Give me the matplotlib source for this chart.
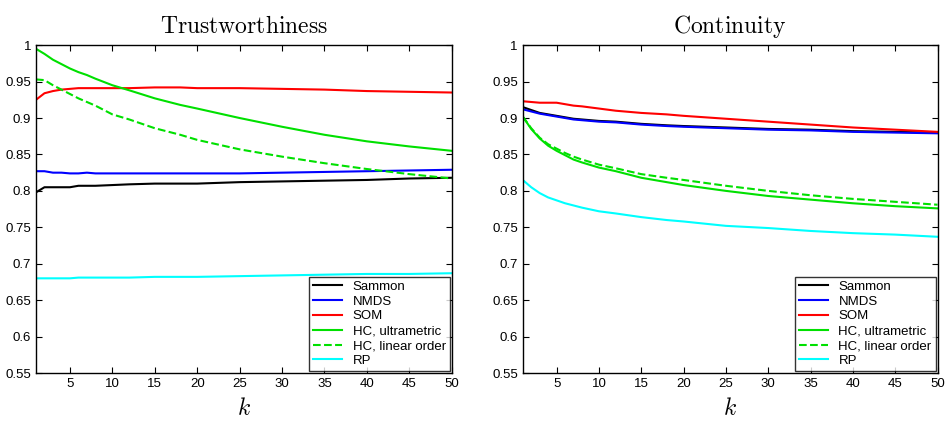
import matplotlib
matplotlib.use("Agg")
import matplotlib.pyplot as plt

plt.rcParams["font.family"] = ["Liberation Sans", "DejaVu Sans"]
plt.rcParams["mathtext.fontset"] = "cm"

# k values where curves are sampled
k_pts = [1, 2, 3, 4, 5, 6, 7, 8, 10, 12, 15, 18, 20, 25, 30, 35, 40, 45, 50]

# Trustworthiness
tw_sammon = [0.798, 0.805, 0.805, 0.805, 0.805, 0.807, 0.807, 0.807, 0.808, 0.809, 0.810, 0.810, 0.810, 0.812, 0.813, 0.814, 0.815, 0.817, 0.818]
tw_nmds = [0.827, 0.827, 0.825, 0.825, 0.824, 0.824, 0.825, 0.824, 0.824, 0.824, 0.824, 0.824, 0.824, 0.824, 0.825, 0.826, 0.827, 0.828, 0.829]
tw_som = [0.925, 0.934, 0.937, 0.939, 0.940, 0.941, 0.941, 0.941, 0.941, 0.941, 0.942, 0.942, 0.941, 0.941, 0.940, 0.939, 0.937, 0.936, 0.935]
tw_hc_ultra = [0.995, 0.988, 0.980, 0.974, 0.968, 0.963, 0.959, 0.954, 0.945, 0.938, 0.927, 0.918, 0.913, 0.900, 0.888, 0.877, 0.868, 0.861, 0.855]
tw_hc_linear = [0.953, 0.952, 0.945, 0.939, 0.933, 0.927, 0.922, 0.917, 0.905, 0.898, 0.886, 0.877, 0.870, 0.857, 0.847, 0.838, 0.830, 0.823, 0.817]
tw_rp = [0.680, 0.680, 0.680, 0.680, 0.680, 0.681, 0.681, 0.681, 0.681, 0.681, 0.682, 0.682, 0.682, 0.683, 0.684, 0.685, 0.686, 0.686, 0.687]

# Continuity
co_sammon = [0.915, 0.911, 0.907, 0.905, 0.903, 0.901, 0.899, 0.898, 0.896, 0.895, 0.892, 0.890, 0.889, 0.887, 0.885, 0.884, 0.882, 0.881, 0.880]
co_nmds = [0.912, 0.909, 0.906, 0.904, 0.902, 0.900, 0.898, 0.897, 0.895, 0.894, 0.891, 0.889, 0.888, 0.886, 0.884, 0.883, 0.881, 0.880, 0.879]
co_som = [0.923, 0.922, 0.921, 0.921, 0.921, 0.919, 0.917, 0.916, 0.913, 0.910, 0.907, 0.905, 0.903, 0.899, 0.895, 0.891, 0.887, 0.884, 0.881]
co_hc_ultra = [0.902, 0.885, 0.872, 0.862, 0.855, 0.849, 0.843, 0.839, 0.832, 0.827, 0.818, 0.812, 0.808, 0.800, 0.793, 0.788, 0.783, 0.779, 0.776]
co_hc_linear = [0.902, 0.886, 0.873, 0.864, 0.858, 0.852, 0.847, 0.843, 0.836, 0.831, 0.823, 0.818, 0.815, 0.807, 0.800, 0.794, 0.789, 0.785, 0.781]
co_rp = [0.815, 0.805, 0.797, 0.791, 0.787, 0.783, 0.780, 0.777, 0.772, 0.769, 0.764, 0.760, 0.758, 0.752, 0.749, 0.745, 0.742, 0.740, 0.737]

labels = ["Sammon", "NMDS", "SOM", "HC, ultrametric", "HC, linear order", "RP"]
colors = ["black", "#0000ff", "#ff0000", "#00e000", "#00e000", "#00ffff"]
styles = ["-", "-", "-", "-", "--", "-"]

panels = [
    ("Trustworthiness", [tw_sammon, tw_nmds, tw_som, tw_hc_ultra, tw_hc_linear, tw_rp]),
    ("Continuity", [co_sammon, co_nmds, co_som, co_hc_ultra, co_hc_linear, co_rp]),
]

fig = plt.figure(figsize=(9.47, 4.22), dpi=100)
axes = [fig.add_axes([0.038, 0.116, 0.439, 0.777]),
        fig.add_axes([0.552, 0.116, 0.438, 0.777])]

for ax, (title, series) in zip(axes, panels):
    for vals, lab, c, ls in zip(series, labels, colors, styles):
        ax.plot(k_pts, vals, color=c, linestyle=ls, linewidth=1.5, label=lab)
    ax.set_xlim(1, 50)
    ax.set_ylim(0.55, 1.0)
    ax.set_xticks(range(5, 51, 5))
    ax.set_yticks([0.55, 0.6, 0.65, 0.7, 0.75, 0.8, 0.85, 0.9, 0.95, 1.0])
    ax.set_yticklabels(["0.55", "0.6", "0.65", "0.7", "0.75", "0.8", "0.85", "0.9", "0.95", "1"])
    ax.tick_params(direction="in", top=True, right=True, labelsize=9.5, length=4)
    for sp in ax.spines.values():
        sp.set_linewidth(1.0)
    ax.set_title(r"$\mathrm{" + title + "}$", fontsize=17, pad=9)
    ax.set_xlabel(r"$k$", fontsize=17, labelpad=6)
    leg = ax.legend(loc="lower right", fontsize=9.5, frameon=True, fancybox=False,
                    borderaxespad=0.15, handlelength=2.2, labelspacing=0.2,
                    borderpad=0.3, handletextpad=0.8)
    leg.get_frame().set_edgecolor("black")
    leg.get_frame().set_linewidth(1.0)

fig.savefig("out.png", dpi=100)
